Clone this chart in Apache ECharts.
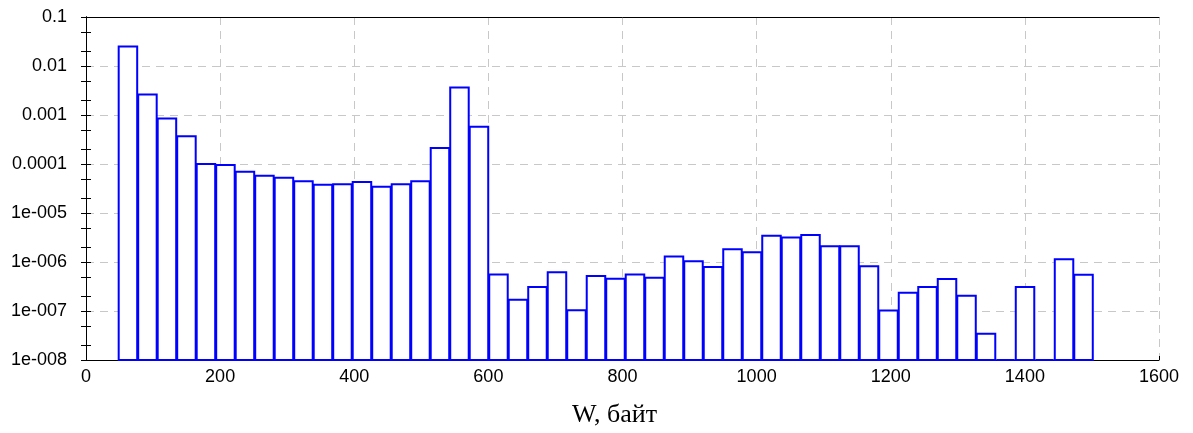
<!DOCTYPE html>
<html>
<head>
<meta charset="utf-8">
<title>W histogram</title>
<script src="https://cdn.jsdelivr.net/npm/echarts@6/dist/echarts.min.js"></script>
<style>
  html, body {
    margin: 0;
    padding: 0;
    background: #fff;
  }
  #chart {
    width: 1193px;
    height: 433px;
  }
</style>
</head>
<body>
<div id="chart"></div>
<script>
// histogram bins along W (bytes)
var binLeft = 48
var binWidth = 29.08
// frequency per bin, 0 = empty bin
var freq = [
  0.025, 0.00262, 0.000853, 0.000368, 0.0001, 0.000095, 0.0000695, 0.0000577, 0.0000525, 0.0000442,
  0.0000379, 0.0000384, 0.000043, 0.0000345, 0.0000384, 0.0000442, 0.000213, 0.00363, 0.000577, 5.57e-7,
  1.7e-7, 3.08e-7, 6.2e-7, 1.04e-7, 5.15e-7, 4.54e-7, 5.57e-7, 4.75e-7, 1.29e-6, 1.04e-6,
  7.9e-7, 1.82e-6, 1.58e-6, 3.45e-6, 3.18e-6, 3.55e-6, 2.09e-6, 2.09e-6, 8.2e-7, 1.02e-7,
  2.36e-7, 3.08e-7, 4.48e-7, 2.05e-7, 3.43e-8, 0, 3.08e-7, 0, 1.14e-6, 5.47e-7
]
var xTicks = [0, 200, 400, 600, 800, 1000, 1200, 1400, 1600]
var yMin = 1e-8
var yMax = 0.1
// 1, 2, 5 marks on every decade
var yTickValues = []
for (var e = -8; e <= -2; e++) {
  yTickValues.push(Math.pow(10, e), 2 * Math.pow(10, e), 5 * Math.pow(10, e))
}
yTickValues.push(yMax)

var barData = freq.map(function (v, i) {
  return [binLeft + i * binWidth, binLeft + (i + 1) * binWidth, v]
})

function yLabel (v) {
  var p = Math.round(Math.log10(v))
  if (p >= -4) {
    return v.toFixed(-p)
  }
  return '1e-' + String(-p).padStart(3, '0')
}

var font = "'Liberation Sans', Arial, sans-serif"
var dashed = { color: '#c8c8c8', type: [8, 6], width: 1 }

// log axis with only the small 1/2/5 ticks, laid over the frame
function tickAxis (pos) {
  return {
    type: 'log',
    logBase: 10,
    position: pos,
    min: yMin,
    max: yMax,
    splitNumber: 7,
    axisLine: { show: true, lineStyle: { color: '#000', width: 1 } },
    axisTick: {
      inside: true,
      length: 5,
      customValues: yTickValues,
      lineStyle: { color: '#000' }
    },
    axisLabel: { show: false },
    splitLine: { show: false }
  }
}

var chart = echarts.init(document.getElementById('chart'))
var option = {
  animation: false,
  grid: {
    left: 86,
    right: 34,
    top: 17,
    bottom: 71
  },
  xAxis: [{
    type: 'value',
    min: xTicks[0],
    max: xTicks[xTicks.length - 1],
    interval: 200,
    name: 'W, байт',
    nameLocation: 'middle',
    nameGap: 42,
    nameTextStyle: {
      fontFamily: "'Liberation Serif', 'Times New Roman', serif",
      fontSize: 26,
      color: '#000',
      padding: [0, 16, 0, 0]
    },
    axisLine: { lineStyle: { color: '#000', width: 1 } },
    axisTick: { inside: true, length: 4, lineStyle: { color: '#000' } },
    axisLabel: {
      fontFamily: font,
      fontSize: 18,
      color: '#000',
      margin: 8,
      formatter: function (v) { return String(v) }
    },
    splitLine: { show: true, lineStyle: dashed }
  }, {
    type: 'value',
    position: 'top',
    min: xTicks[0],
    max: xTicks[xTicks.length - 1],
    interval: 200,
    axisLine: { show: true, lineStyle: { color: '#000', width: 1 } },
    axisTick: { show: false },
    axisLabel: { show: false },
    splitLine: { show: false }
  }],
  yAxis: [{
    type: 'log',
    logBase: 10,
    position: 'left',
    min: yMin,
    max: yMax,
    splitNumber: 7,
    axisLine: { show: true, lineStyle: { color: '#000', width: 1 } },
    axisTick: { inside: true, length: 5, lineStyle: { color: '#000' } },
    axisLabel: {
      fontFamily: font,
      fontSize: 18,
      color: '#000',
      margin: 19,
      formatter: yLabel
    },
    splitLine: { show: true, lineStyle: dashed }
  }, tickAxis('right'), tickAxis('left')],
  series: [{
    type: 'custom',
    clip: false,
    data: barData,
    encode: { x: [0, 1], y: 2 },
    renderItem: function (params, api) {
      var v = api.value(2)
      var topLeft = api.coord([api.value(0), v > 0 ? v : yMin])
      var botRight = api.coord([api.value(1), yMin])
      return {
        type: 'rect',
        shape: {
          x: topLeft[0] + 0.5,
          y: topLeft[1],
          width: botRight[0] - topLeft[0] - 1,
          height: botRight[1] - topLeft[1]
        },
        style: {
          fill: '#fff',
          stroke: '#0000ff',
          lineWidth: 2
        }
      }
    }
  }]
}
chart.setOption(option)
</script>
</body>
</html>
